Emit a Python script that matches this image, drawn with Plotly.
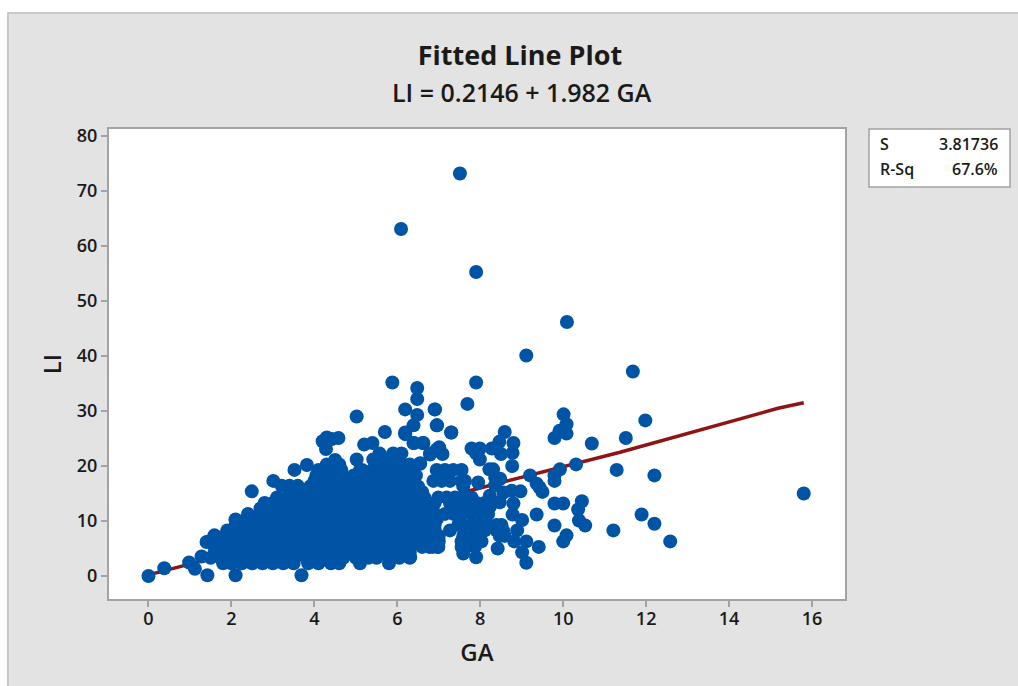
import plotly.graph_objects as go

# Fitted line
fit_ga = [0, 8.55, 11.37, 15.18, 15.8]
fit_li = [0.2, 17.1, 22.5, 30.5, 31.5]

# Separately readable points
outlier_ga = [0, 0.38, 0.98, 1.12, 1.42, 2.1, 3.69, 1.28, 1.4, 1.59, 1.88, 2.1, 2.49, 2.71, 3.01, 3.21, 3.4, 3.6, 3.52, 3.82,
              4.2, 4.3, 4.42, 4.58, 4.28, 4.5, 5.02, 5.2, 5.4, 5.7, 5.57, 5.02, 5.1, 5.42, 6.1, 6.19, 6.19, 5.88, 6.48, 6.48,
              6.48, 6.39, 6.39, 6.61, 6.79, 6.55, 6.95, 6.9, 6.95,
              7.51, 6.09, 7.9, 10.09, 9.11, 11.68, 7.9, 7.69, 6.91, 6.96, 7.3, 10.01, 10.08, 9.91, 10.08, 9.79, 11.98, 11.51, 10.69,
              8.59, 8.46, 8.8, 8.28, 8.5, 8.78, 7.79, 7.99, 7.99, 7.9, 8.77, 8.22, 8.31, 10.31, 11.29, 12.2, 9.92, 9.79, 9.79, 9.2,
              9.36, 9.43, 9.5, 8.97, 7.95, 9.79, 10.0, 10.45, 10.36, 9.36, 10.38, 10.53, 9.01, 8.78, 8.8, 9.79, 11.89, 12.2, 11.21,
              12.58, 15.8, 10.08, 10.0, 9.41, 9.11, 8.89, 9.01, 9.11, 8.82, 8.42, 7.9, 7.59, 6.97, 6.77, 6.31,
              6.55, 6.79, 7.01, 7.09, 6.4, 6.63, 6.19, 7.3, 8.36, 8.36, 8.48, 8.23, 8.56, 8.76, 8.47, 8.23]
outlier_li = [0, 1.4, 2.45, 1.3, 0.15, 0.15, 0.15, 3.55, 6.2, 7.4, 7.0, 10.2, 15.4, 12.2, 17.3, 16.4, 16.4, 16.4, 19.3, 20.2,
              24.5, 25.2, 24.9, 25.1, 23.1, 21.1, 29, 23.9, 24.2, 26.2, 22.3, 21.2, 19.3, 21.2, 22.3, 26.1, 30.3, 35.2, 34.2, 32.2,
              29.3, 27.4, 24.2, 24.2, 22.1, 20.4, 23, 30.3, 27.4,
              73.2, 63.1, 55.3, 46.2, 40.1, 37.2, 35.2, 31.3, 30.3, 27.4, 26.1, 29.4, 27.6, 26.4, 25.9, 25.1, 28.3, 25.1, 24.1,
              26.2, 24.4, 24.2, 23.2, 22.2, 22.4, 23.2, 23.2, 21.2, 22.3, 20, 19.4, 19.4, 20.3, 19.3, 18.3, 19.4, 18.3, 17.3, 18.3,
              16.8, 16.1, 15.3, 15.4, 17, 13.2, 13.2, 13.6, 12.1, 11.2, 10.1, 9.2, 10.2, 11.2, 13.2, 9.2, 11.2, 9.5, 8.3,
              6.3, 15, 7.4, 6.3, 5.3, 6.3, 8.3, 4.3, 2.4, 6.3, 5, 3.4, 4.1, 5.3, 5.3, 3.4,
              20.5, 22.3, 23.4, 22.2, 24.2, 24.2, 25.8, 26.1, 17.9, 16.5, 17.7, 14.6, 15.2, 15.5, 13.4, 12.6]

# Dense body of the cloud: LI levels and the GA values seen along each level
level_li = [2.3, 3.3, 4.3, 5.3, 6.3, 7.3, 8.3, 9.3, 10.3, 11.3, 12.3, 13.3, 14.3, 15.3, 16.3, 17.3, 18.3, 19.3, 20.3, 21.3, 22.3]
level_ga = [
    [1.8, 2.0, 2.25, 2.5, 2.75, 3.0, 3.25, 3.5, 3.85, 4.1, 4.4, 4.6, 5.1, 5.8],
    [1.5, 1.75, 2.0, 2.3, 2.6, 2.9, 3.2, 3.5, 3.8, 4.1, 4.4, 4.7, 5.0, 5.3, 5.5, 5.8, 6.05, 6.3],
    [1.6, 1.9, 2.15, 2.45, 2.75, 3.05, 3.35, 3.65, 3.95, 4.25, 4.55, 4.85, 5.15, 5.45, 5.75, 6.05, 6.3],
    [1.6, 1.85, 2.1, 2.4, 2.7, 3.0, 3.3, 3.6, 3.9, 4.2, 4.5, 4.8, 5.1, 5.4, 5.7, 6.0, 6.3, 6.6, 6.85, 6.99, 7.55, 7.87],
    [1.45, 1.75, 2.05, 2.35, 2.65, 2.95, 3.25, 3.55, 3.85, 4.15, 4.45, 4.75, 5.05, 5.35, 5.65, 5.95, 6.25, 6.55, 6.8, 7.0, 7.55, 7.75, 8.03],
    [1.6, 1.85, 2.1, 2.4, 2.7, 3.0, 3.3, 3.6, 3.9, 4.2, 4.5, 4.8, 5.1, 5.4, 5.7, 6.0, 6.3, 6.55, 6.8, 7.0, 7.59, 7.79, 8.47, 8.59],
    [1.9, 2.15, 2.45, 2.75, 3.05, 3.35, 3.65, 3.95, 4.25, 4.55, 4.85, 5.15, 5.45, 5.75, 6.05, 6.35, 6.65, 6.9, 7.27, 7.91, 8.11, 8.39, 8.55],
    [2.1, 2.4, 2.7, 3.0, 3.3, 3.6, 3.9, 4.2, 4.5, 4.8, 5.1, 5.4, 5.7, 6.0, 6.3, 6.6, 6.9, 7.47, 7.59, 7.79, 7.99, 8.19, 8.39, 8.51],
    [2.1, 2.35, 2.65, 2.95, 3.25, 3.55, 3.85, 4.15, 4.45, 4.75, 5.05, 5.35, 5.65, 5.95, 6.25, 6.55, 6.85, 6.95],
    [2.4, 2.7, 3.0, 3.3, 3.6, 3.9, 4.2, 4.5, 4.8, 5.1, 5.4, 5.7, 6.0, 6.3, 6.6, 6.9, 7.15, 7.35, 7.55, 7.79, 7.99, 8.19],
    [2.7, 2.95, 3.25, 3.55, 3.85, 4.15, 4.45, 4.75, 5.05, 5.35, 5.65, 5.95, 6.25, 6.55, 6.85],
    [2.8, 3.0, 3.3, 3.6, 3.9, 4.2, 4.5, 4.8, 5.1, 5.4, 5.7, 6.0, 6.3, 6.6, 6.9, 7.27, 7.47, 7.67, 7.91, 8.11],
    [3.1, 3.35, 3.65, 3.95, 4.25, 4.55, 4.85, 5.15, 5.45, 5.75, 6.05, 6.35, 6.65, 6.99, 7.19, 7.39, 7.59, 7.79],
    [3.5, 3.7, 4.0, 4.3, 4.6, 4.9, 5.2, 5.5, 5.8, 6.1, 6.4, 6.6],
    [3.9, 4.15, 4.45, 4.75, 5.05, 5.35, 5.65, 5.95, 6.25, 6.5, 7.59],
    [4.0, 4.3, 4.6, 4.9, 5.2, 5.5, 5.8, 6.1, 6.4, 6.87, 7.07, 7.27, 7.55, 7.63],
    [4.05, 4.35, 4.65, 4.95, 5.25, 5.55, 5.85, 6.15, 6.45],
    [4.1, 4.4, 4.65, 5.15, 5.4, 5.7, 6.0, 6.3, 6.95, 7.15, 7.35, 7.55],
    [4.3, 4.6, 5.6, 5.85, 6.1, 6.3],
    [5.75, 6.0],
    [5.9],
]

ga = list(outlier_ga)
li = list(outlier_li)
for level, values in zip(level_li, level_ga):
    ga += values
    li += [level] * len(values)

x_ticks = [0, 2, 4, 6, 8, 10, 12, 14, 16]
y_ticks = [0, 10, 20, 30, 40, 50, 60, 70, 80]

FONT = "Open Sans"
INK = "#1a1a1a"
GRID = "#a3a3a3"

fig = go.Figure()
fig.add_trace(go.Scatter(x=fit_ga, y=fit_li, mode="lines", line=dict(color="#8f1414", width=3.5), hoverinfo="skip"))
fig.add_trace(go.Scatter(x=ga, y=li, mode="markers", marker=dict(color="#0054a6", size=14, line=dict(width=0))))

axis_common = dict(showgrid=False, zeroline=False, showline=True, mirror=True, linecolor=GRID, linewidth=2,
                   ticks="outside", ticklen=6, tickwidth=1.5, tickcolor=GRID,
                   tickfont=dict(family=FONT, size=18, color=INK, weight=600))

fig.update_layout(
    width=1018, height=686, autosize=False, showlegend=False,
    margin=dict(l=109, r=173, t=129, b=87, pad=0),
    paper_bgcolor="white", plot_bgcolor="white",
    font=dict(family=FONT, color=INK),
    title=dict(text="Fitted Line Plot", x=520/1018, xanchor="center", y=1-56/686, yanchor="middle",
               font=dict(family=FONT, size=27, color=INK, weight=700)),
    xaxis=dict(axis_common, range=[-0.952, 16.795], tickvals=x_ticks, ticklabelstandoff=-4,
               title=dict(text="GA", font=dict(family=FONT, size=24, color=INK, weight=600), standoff=16)),
    yaxis=dict(axis_common, range=[-4.18, 81.3], tickvals=y_ticks,
               title=dict(text="LI", font=dict(family=FONT, size=24, color=INK, weight=600), standoff=8)),
    shapes=[
        dict(type="rect", xref="paper", yref="paper", x0=-101/736, x1=1.3, y0=-0.2, y1=1+116/470,
             fillcolor="#e3e3e3", line=dict(color="#c9c9c9", width=2), layer="below"),
        dict(type="rect", xref="paper", yref="paper", x0=0, x1=1, y0=0, y1=1,
             fillcolor="white", line=dict(width=0), layer="below"),
        dict(type="rect", xref="paper", yref="paper", x0=(869-109)/736, x1=(1010-109)/736,
             y0=1-58/470, y1=1, fillcolor="white", line=dict(color=GRID, width=1.5)),
    ],
    annotations=[
        dict(text="LI = 0.2146 + 1.982 GA", xref="paper", yref="paper", x=(522-109)/736, y=1+(129-92)/470,
             showarrow=False, xanchor="center", yanchor="middle", font=dict(family=FONT, size=25, color=INK, weight=600)),
        dict(text="S", xref="paper", yref="paper", x=(878-109)/736, y=1-15/470, showarrow=False,
             xanchor="left", yanchor="middle", font=dict(family=FONT, size=16, color=INK, weight=600)),
        dict(text="R-Sq", xref="paper", yref="paper", x=(878-109)/736, y=1-40/470, showarrow=False,
             xanchor="left", yanchor="middle", font=dict(family=FONT, size=16, color=INK, weight=600)),
        dict(text="3.81736", xref="paper", yref="paper", x=(1000-109)/736, y=1-15/470, showarrow=False,
             xanchor="right", yanchor="middle", font=dict(family=FONT, size=16, color=INK, weight=600)),
        dict(text="67.6%", xref="paper", yref="paper", x=(1000-109)/736, y=1-40/470, showarrow=False,
             xanchor="right", yanchor="middle", font=dict(family=FONT, size=16, color=INK, weight=600)),
    ],
)

fig.write_html("out.html", config=dict(displayModeBar=False),
               post_script="document.body.style.margin='0';document.body.style.overflow='hidden';")
